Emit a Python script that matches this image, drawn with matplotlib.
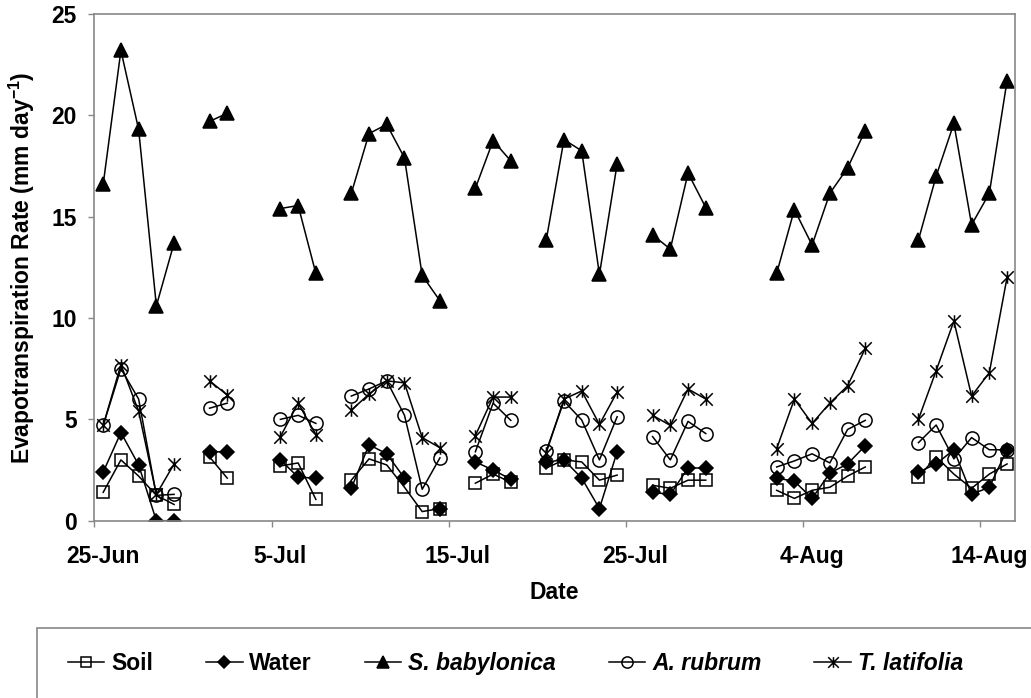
import numpy as np
import matplotlib
matplotlib.use("Agg")
import matplotlib.pyplot as plt
from matplotlib.path import Path
from matplotlib.patches import Rectangle

nan = np.nan

# day 0 = 25-Jun, one value per day, nan where nothing was measured
days = np.arange(52)
tick_days = [0, 10, 20, 30, 40, 50]
tick_labels = ['25-Jun', '5-Jul', '15-Jul', '25-Jul', '4-Aug', '14-Aug']

soil = [1.4, 3.0, 2.2, 1.25, 0.8, nan, 3.15, 2.1, nan, nan,
        2.7, 2.85, 1.05, nan, 2.0, 3.05, 2.75, 1.65, 0.45, 0.6,
        nan, 1.85, 2.3, 1.9, nan, 2.6, 3.0, 2.9, 2.0, 2.25,
        nan, 1.75, 1.6, 2.0, 2.0, nan, nan, nan, 1.5, 1.1,
        1.5, 1.65, 2.2, 2.65, nan, nan, 2.15, 3.15, 2.3, 1.6,
        2.3, 2.8]
water = [2.4, 4.35, 2.75, 0.0, 0.0, nan, 3.4, 3.4, nan, nan,
         3.0, 2.15, 2.1, nan, 1.6, 3.75, 3.3, 2.1, nan, 0.6,
         nan, 2.9, 2.5, 2.05, nan, 2.9, 3.0, 2.1, 0.6, 3.4,
         nan, 1.4, 1.3, 2.6, 2.6, nan, nan, nan, 2.1, 1.95,
         1.1, 2.35, 2.8, 3.7, nan, nan, 2.4, 2.8, 3.5, 1.3,
         1.65, 3.5]
s_babylonica = [16.6, 23.2, 19.3, 10.6, 13.7, nan, 19.7, 20.1, nan, nan,
                15.4, 15.55, 12.2, nan, 16.15, 19.1, 19.55, 17.9, 12.1, 10.85,
                nan, 16.4, 18.75, 17.75, nan, 13.85, 18.8, 18.25, 12.15, 17.6,
                nan, 14.1, 13.4, 17.15, 15.45, nan, nan, nan, 12.2, 15.35,
                13.6, 16.15, 17.4, 19.25, nan, nan, 13.85, 17.0, 19.6, 14.6,
                16.15, 21.7]
a_rubrum = [4.7, 7.5, 6.0, 1.25, 1.3, nan, 5.55, 5.8, nan, nan,
            5.0, 5.2, 4.8, nan, 6.15, 6.5, 6.9, 5.2, 1.55, 3.1,
            nan, 3.4, 5.8, 4.95, nan, 3.45, 5.9, 4.97, 3.0, 5.13,
            nan, 4.15, 3.0, 4.9, 4.3, nan, nan, nan, 2.65, 2.95,
            3.3, 2.85, 4.5, 4.95, nan, nan, 3.85, 4.72, 3.05, 4.1,
            3.5, 3.5]
t_latifolia = [4.7, 7.7, 5.4, 1.3, 2.8, nan, 6.9, 6.2, nan, nan,
               4.15, 5.8, 4.25, nan, 5.45, 6.25, 6.9, 6.8, 4.1, 3.6,
               nan, 4.2, 6.1, 6.1, nan, 3.35, 6.0, 6.4, 4.75, 6.35,
               nan, 5.2, 4.7, 6.5, 6.0, nan, nan, nan, 3.55, 6.0,
               4.8, 5.8, 6.65, 8.5, nan, nan, 5.0, 7.4, 9.85, 6.15,
               7.3, 12.0]

plt.rcParams['font.family'] = ['Liberation Sans', 'DejaVu Sans']
plt.rcParams['font.weight'] = 'bold'
plt.rcParams['mathtext.default'] = 'regular'

# excel style asterisk: an X with a vertical bar through it
star = Path([(0, -1), (0, 1), (-1, -1), (1, 1), (-1, 1), (1, -1)],
            [Path.MOVETO, Path.LINETO, Path.MOVETO, Path.LINETO, Path.MOVETO, Path.LINETO])

fs = 16.5

fig = plt.figure(figsize=(10.31, 6.98), dpi=100)
ax = fig.add_axes([0.0915, 0.254, 0.893, 0.726])

common = dict(color='black', lw=1.1, mew=1.1, mec='black')
l1, = ax.plot(days, soil, marker='s', ms=9, mfc='none', label='Soil', **common)
l2, = ax.plot(days, water, marker='D', ms=7, mfc='black', label='Water', **common)
l3, = ax.plot(days, s_babylonica, marker='^', ms=10.5, mfc='black', label='S. babylonica', **common)
l4, = ax.plot(days, a_rubrum, marker='o', ms=9.5, mfc='none', label='A. rubrum', **common)
l5, = ax.plot(days, t_latifolia, marker=star, ms=9, mfc='none', label='T. latifolia', **common)

ax.set_xlim(-0.5, 51.45)
ax.set_ylim(0, 25)
ax.set_yticks(np.arange(0, 26, 5))
ax.set_xticks(tick_days)
ax.set_xticklabels(tick_labels)
ax.set_xticks(np.array(tick_days) - 0.5, minor=True)
ax.tick_params(axis='x', which='major', length=0, pad=17.5, labelsize=fs)
ax.tick_params(axis='x', which='minor', length=4, width=1, color='#888888', direction='out')
ax.tick_params(axis='y', which='major', length=4.5, width=1, color='#888888', pad=8, labelsize=fs)
for sp in ax.spines.values():
    sp.set_color('#888888')
    sp.set_linewidth(1.2)

ax.set_ylabel('Evapotranspiration Rate (mm day$^{-1}$)', fontsize=fs, fontweight='bold')
ax.yaxis.set_label_coords(-0.062, 0.5)
ax.set_xlabel('Date', fontsize=fs, fontweight='bold')
ax.xaxis.set_label_coords(0.5, -0.118)

# legend box runs off the bottom right of the figure
fig.patches.append(Rectangle((0.036, -0.1), 1.2, 0.2, transform=fig.transFigure,
                             fill=False, edgecolor='#888888', lw=1.2))
leg = fig.legend(handles=[l1, l2, l3, l4, l5], loc='center', bbox_to_anchor=(0.5, 0.05),
                 ncol=5, frameon=False, fontsize=fs, handlelength=1.6, handletextpad=0.3,
                 columnspacing=2.3, markerscale=0.85)
for txt in leg.get_texts()[2:]:
    txt.set_fontstyle('italic')

fig.savefig('out.png', dpi=100)
